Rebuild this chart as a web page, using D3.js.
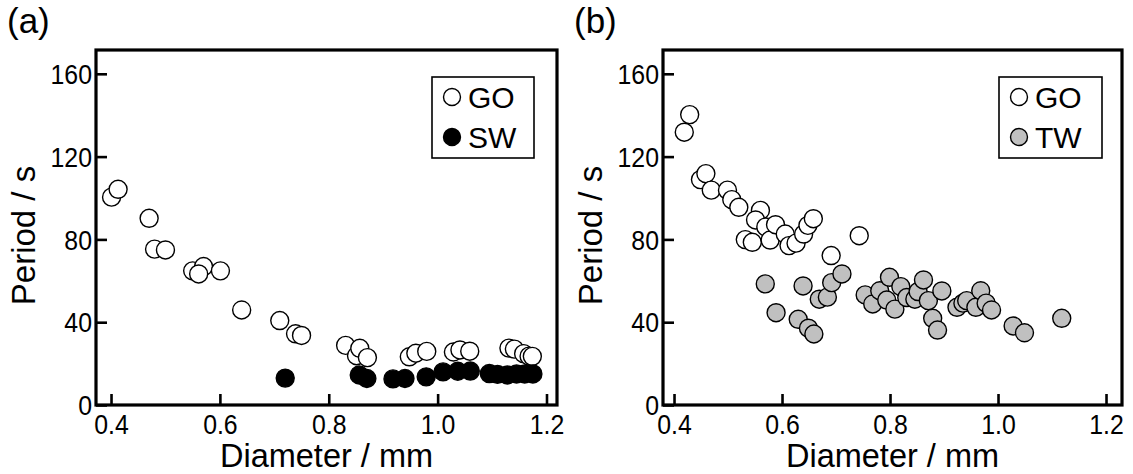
<!DOCTYPE html>
<html>
<head>
<meta charset="utf-8">
<script src="https://cdn.jsdelivr.net/npm/d3@7"></script>
<style>
  body { margin: 0; background: #fff; }
  svg text { font-family: "Liberation Sans", Arial, Helvetica, sans-serif; fill: #000; }
</style>
</head>
<body>
<svg id="chart" width="1133" height="474"></svg>
<script>
// Axis ticks shared by both panels
const diameterTicks = [0.4, 0.6, 0.8, 1.0, 1.2];
const periodTicks = [0, 40, 80, 120, 160];

// Panel (a): GO and SW
const goA_diameter = [0.401, 0.413, 0.470, 0.480, 0.500, 0.550, 0.570, 0.561, 0.601, 0.640,
  0.710, 0.739, 0.750, 0.831, 0.851, 0.857, 0.871, 0.948, 0.960, 0.980,
  1.029, 1.041, 1.059, 1.131, 1.141, 1.158, 1.168, 1.174];
const goA_period = [100.4, 104.2, 90.2, 75.3, 74.9, 64.8, 66.9, 63.3, 64.8, 45.9,
  40.8, 34.4, 33.6, 28.8, 23.8, 27.4, 22.9, 23.3, 25.0, 25.9,
  25.6, 26.6, 26.0, 27.5, 27.0, 24.8, 23.6, 23.5];
const swA_diameter = [0.720, 0.856, 0.870, 0.918, 0.940, 0.979, 1.010, 1.037, 1.060,
  1.095, 1.110, 1.128, 1.145, 1.160, 1.175];
const swA_period = [13.0, 14.5, 12.8, 12.6, 12.8, 13.6, 16.0, 16.3, 16.4,
  15.2, 14.8, 14.5, 15.0, 15.0, 15.0];

// Panel (b): GO and TW
const goB_diameter = [0.419, 0.429, 0.449, 0.459, 0.469, 0.499, 0.507, 0.520, 0.532, 0.545,
  0.560, 0.551, 0.570, 0.578, 0.588, 0.606, 0.613, 0.626, 0.640, 0.648,
  0.658, 0.691, 0.743];
const goB_period = [131.8, 140.3, 108.9, 111.8, 103.8, 103.8, 99.2, 95.5, 79.9, 78.6,
  94.0, 89.4, 86.0, 79.7, 87.1, 82.6, 77.0, 78.2, 82.6, 86.8,
  90.0, 72.2, 81.8];
const twB_diameter = [0.569, 0.589, 0.639, 0.630, 0.649, 0.659, 0.669, 0.684, 0.692, 0.711,
  0.754, 0.768, 0.781, 0.799, 0.794, 0.809, 0.820, 0.831, 0.846, 0.852,
  0.862, 0.871, 0.879, 0.888, 0.896, 0.924, 0.935, 0.942, 0.959, 0.968,
  0.978, 0.988, 1.028, 1.049, 1.118];
const twB_period = [58.5, 44.6, 57.5, 41.4, 37.1, 34.3, 51.1, 52.1, 59.1, 63.3,
  53.2, 48.8, 55.2, 61.7, 50.7, 46.3, 57.2, 51.9, 51.1, 54.8,
  60.4, 50.4, 41.9, 36.2, 55.1, 47.2, 49.2, 50.4, 47.2, 55.2,
  49.2, 45.9, 38.2, 34.9, 41.9];

const zip = (xs, ys) => xs.map((d, i) => ({ d, p: ys[i] }));

const panels = [
  {
    tag: "(a)",
    frame: { left: 96, right: 557, top: 50, bottom: 405 },
    xDomain: [0.3724, 1.2193],
    legendBox: { x: 432, y: 77, w: 102, h: 81 },
    series: [
      { name: "GO", data: zip(goA_diameter, goA_period), fill: "#ffffff" },
      { name: "SW", data: zip(swA_diameter, swA_period), fill: "#000000" }
    ]
  },
  {
    tag: "(b)",
    frame: { left: 663, right: 1122, top: 50, bottom: 405 },
    xDomain: [0.3796, 1.2296],
    legendBox: { x: 999, y: 77, w: 103, h: 81 },
    series: [
      { name: "TW", data: zip(twB_diameter, twB_period), fill: "#c0c0c0", legendIndex: 1 },
      { name: "GO", data: zip(goB_diameter, goB_period), fill: "#ffffff", legendIndex: 0 }
    ]
  }
];

const svg = d3.select("#chart");
const yDomain = [0, 171.5];
const fmt = d3.format(".1f");

// tick labels are set in a slightly narrowed face
function narrow(sel, factor) {
  sel.each(function () {
    const len = this.getComputedTextLength();
    d3.select(this)
      .attr("textLength", len * factor)
      .attr("lengthAdjust", "spacingAndGlyphs");
  });
}

panels.forEach(panel => {
  const f = panel.frame;
  const x = d3.scaleLinear().domain(panel.xDomain).range([f.left, f.right]);
  const y = d3.scaleLinear().domain(yDomain).range([f.bottom, f.top]);
  const g = svg.append("g");

  // markers
  panel.series.forEach(s => {
    g.append("g").selectAll("circle")
      .data(s.data)
      .join("circle")
      .attr("cx", d => x(d.d))
      .attr("cy", d => y(d.p))
      .attr("r", 9)
      .attr("fill", s.fill)
      .attr("stroke", "#000")
      .attr("stroke-width", 1.4);
  });

  // bottom axis with inward ticks
  const xAxis = g.append("g")
    .attr("transform", `translate(0,${f.bottom})`)
    .call(d3.axisBottom(x).tickValues(diameterTicks).tickFormat(fmt)
      .tickSizeInner(-11).tickSizeOuter(0).tickPadding(0));
  xAxis.select(".domain").remove();
  xAxis.selectAll(".tick line").attr("stroke", "#000").attr("stroke-width", 2.6);
  xAxis.selectAll(".tick text")
    .attr("y", 29).attr("dy", 0)
    .style("font-size", "27px")
    .call(narrow, 0.92);

  // left axis with inward ticks
  const yAxis = g.append("g")
    .attr("transform", `translate(${f.left},0)`)
    .call(d3.axisLeft(y).tickValues(periodTicks)
      .tickSizeInner(-11).tickSizeOuter(0).tickPadding(0));
  yAxis.select(".domain").remove();
  yAxis.selectAll(".tick line").attr("stroke", "#000").attr("stroke-width", 2.6);
  yAxis.selectAll(".tick text")
    .attr("x", -4).attr("dy", "0.36em")
    .style("font-size", "27px")
    .call(narrow, 0.92);

  // plot frame
  g.append("rect")
    .attr("x", f.left).attr("y", f.top)
    .attr("width", f.right - f.left).attr("height", f.bottom - f.top)
    .attr("fill", "none").attr("stroke", "#000").attr("stroke-width", 3.2);

  // axis titles
  g.append("text")
    .attr("x", (f.left + f.right) / 2).attr("y", 467)
    .attr("text-anchor", "middle")
    .style("font-size", "32.5px")
    .text("Diameter / mm");
  g.append("text")
    .attr("transform", `translate(${f.left - 61},${(f.top + f.bottom) / 2 + 8}) rotate(-90)`)
    .attr("text-anchor", "middle")
    .style("font-size", "33px")
    .text("Period / s");

  // panel tag
  g.append("text")
    .attr("x", f.left - 89).attr("y", 33)
    .style("font-size", "35px")
    .text(panel.tag);

  // legend
  const lb = panel.legendBox;
  const lg = g.append("g");
  lg.append("rect")
    .attr("x", lb.x).attr("y", lb.y).attr("width", lb.w).attr("height", lb.h)
    .attr("fill", "#fff").attr("stroke", "#000").attr("stroke-width", 1.6);
  panel.series.forEach((s, i) => {
    const idx = s.legendIndex !== undefined ? s.legendIndex : i;
    const cy = lb.y + 20 + idx * 40;
    lg.append("circle")
      .attr("cx", lb.x + 20).attr("cy", cy).attr("r", 8.5)
      .attr("fill", s.fill).attr("stroke", "#000").attr("stroke-width", 1.4);
    lg.append("text")
      .attr("x", lb.x + 36).attr("y", cy + 11)
      .style("font-size", "30px")
      .text(s.name);
  });
});
</script>
</body>
</html>
